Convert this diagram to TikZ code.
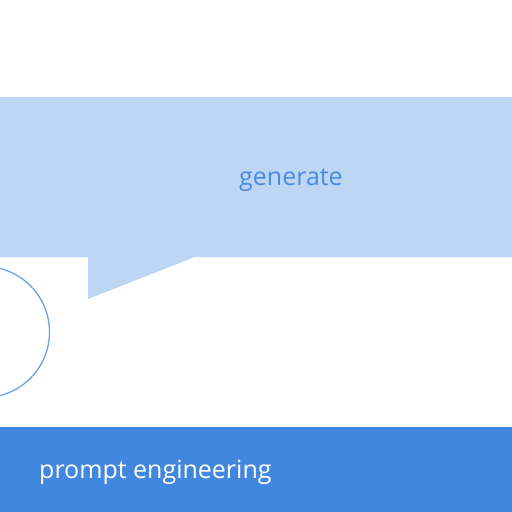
\documentclass[tikz,border=0pt]{standalone}
\usepackage{fontspec}
\setmainfont{Open Sans}
\definecolor{bubble}{HTML}{BDD6F4}
\definecolor{bar}{HTML}{4287DF}
\definecolor{txtblue}{HTML}{4A8BE2}
\definecolor{ring}{HTML}{6AA3EC}
\begin{document}
\begin{tikzpicture}[x=1pt,y=-1pt,
  lbl/.style={font=\fontsize{25}{28}\selectfont, inner sep=0pt}]
\useasboundingbox (0,0) rectangle (512,512);
\fill[white] (0,0) rectangle (512,512);
% speech bubble
\fill[bubble] (0,97) -- (512,97) -- (512,257) -- (195,257) -- (88,299) -- (88,257) -- (0,257) -- cycle;
\node[lbl, text=txtblue] (gen) at (291,180) {generate};
% circle
\draw[ring, line width=1.3pt] (-16,332) circle[radius=65.5];
% bottom bar
\fill[bar] (0,427) rectangle (512,512);
\node[lbl, text=white, anchor=west] (pe) at (39,472) {prompt engineering};
\end{tikzpicture}
\end{document}
